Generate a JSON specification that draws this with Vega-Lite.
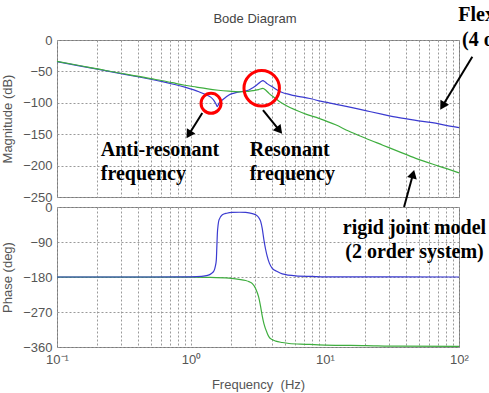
{
  "$schema": "https://vega.github.io/schema/vega-lite/v6.json",
  "padding": {"left": 1, "top": 4, "right": -7, "bottom": 0},
  "bounds": "flush",
  "spacing": 10,
  "config": {
    "view": {"stroke": "#7a7a7a", "strokeWidth": 1},
    "axis": {
      "labelFont": "Liberation Sans", "titleFont": "Liberation Sans",
      "labelColor": "#555555", "titleColor": "#555555",
      "labelFontSize": 13, "titleFontSize": 13, "titleFontWeight": "normal",
      "ticks": false, "domain": false,
      "gridColor": "#9a9a9a", "gridDash": [2, 2], "gridOpacity": 1
    }
  },
  "datasets": {
    "mag": [
      {"model": "flexible", "f": 0.1, "db": -34.5}, {"model": "flexible", "f": 0.15, "db": -41.5}, {"model": "flexible", "f": 0.2, "db": -46.5}, {"model": "flexible", "f": 0.3, "db": -53.5}, {"model": "flexible", "f": 0.4, "db": -58.5}, {"model": "flexible", "f": 0.5, "db": -62.5}, {"model": "flexible", "f": 0.6, "db": -66}, {"model": "flexible", "f": 0.725, "db": -70}, {"model": "flexible", "f": 0.9, "db": -75}, {"model": "flexible", "f": 1.05, "db": -79.5}, {"model": "flexible", "f": 1.147, "db": -82.5}, {"model": "flexible", "f": 1.29, "db": -87}, {"model": "flexible", "f": 1.403, "db": -91}, {"model": "flexible", "f": 1.48, "db": -96}, {"model": "flexible", "f": 1.53, "db": -101}, {"model": "flexible", "f": 1.572, "db": -106}, {"model": "flexible", "f": 1.62, "db": -100.5}, {"model": "flexible", "f": 1.713, "db": -95.5}, {"model": "flexible", "f": 1.82, "db": -91}, {"model": "flexible", "f": 1.92, "db": -87.5}, {"model": "flexible", "f": 2.1, "db": -84.5}, {"model": "flexible", "f": 2.28, "db": -82.5}, {"model": "flexible", "f": 2.5, "db": -81.5}, {"model": "flexible", "f": 2.71, "db": -79.5}, {"model": "flexible", "f": 2.87, "db": -76.5}, {"model": "flexible", "f": 3.04, "db": -73}, {"model": "flexible", "f": 3.2, "db": -69}, {"model": "flexible", "f": 3.33, "db": -66}, {"model": "flexible", "f": 3.44, "db": -64.8}, {"model": "flexible", "f": 3.58, "db": -67}, {"model": "flexible", "f": 3.7, "db": -69.5}, {"model": "flexible", "f": 4.04, "db": -74.5}, {"model": "flexible", "f": 4.4, "db": -79.5}, {"model": "flexible", "f": 4.8, "db": -83.5}, {"model": "flexible", "f": 5.4, "db": -86.5}, {"model": "flexible", "f": 6.04, "db": -89}, {"model": "flexible", "f": 7, "db": -91.5}, {"model": "flexible", "f": 8.04, "db": -94}, {"model": "flexible", "f": 9, "db": -97}, {"model": "flexible", "f": 10.7, "db": -100}, {"model": "flexible", "f": 15, "db": -106.5}, {"model": "flexible", "f": 20.1, "db": -112.5}, {"model": "flexible", "f": 27, "db": -118.5}, {"model": "flexible", "f": 35.6, "db": -123.7}, {"model": "flexible", "f": 47.6, "db": -128}, {"model": "flexible", "f": 63.2, "db": -131.7}, {"model": "flexible", "f": 80, "db": -136}, {"model": "flexible", "f": 100, "db": -139.6},
      {"model": "rigid", "f": 0.1, "db": -34}, {"model": "rigid", "f": 0.15, "db": -41}, {"model": "rigid", "f": 0.2, "db": -46}, {"model": "rigid", "f": 0.3, "db": -53}, {"model": "rigid", "f": 0.4, "db": -57.5}, {"model": "rigid", "f": 0.5, "db": -61.5}, {"model": "rigid", "f": 0.6, "db": -64.5}, {"model": "rigid", "f": 0.725, "db": -68}, {"model": "rigid", "f": 0.9, "db": -72}, {"model": "rigid", "f": 1.1, "db": -75}, {"model": "rigid", "f": 1.3, "db": -77.5}, {"model": "rigid", "f": 1.6, "db": -80}, {"model": "rigid", "f": 1.92, "db": -81.5}, {"model": "rigid", "f": 2.28, "db": -82.5}, {"model": "rigid", "f": 2.6, "db": -82}, {"model": "rigid", "f": 2.9, "db": -80.5}, {"model": "rigid", "f": 3.2, "db": -79}, {"model": "rigid", "f": 3.44, "db": -77}, {"model": "rigid", "f": 3.62, "db": -80}, {"model": "rigid", "f": 3.82, "db": -85}, {"model": "rigid", "f": 4.2, "db": -92}, {"model": "rigid", "f": 4.54, "db": -97.5}, {"model": "rigid", "f": 5.2, "db": -105}, {"model": "rigid", "f": 6.04, "db": -111.5}, {"model": "rigid", "f": 7.2, "db": -118}, {"model": "rigid", "f": 9, "db": -124.7}, {"model": "rigid", "f": 12, "db": -135}, {"model": "rigid", "f": 15, "db": -145}, {"model": "rigid", "f": 20.1, "db": -156.5}, {"model": "rigid", "f": 27, "db": -167.5}, {"model": "rigid", "f": 35.6, "db": -177.8}, {"model": "rigid", "f": 47.6, "db": -188.4}, {"model": "rigid", "f": 63.2, "db": -197.5}, {"model": "rigid", "f": 80, "db": -204.5}, {"model": "rigid", "f": 100, "db": -211.5}
    ],
    "phase": [
      {"model": "flexible", "f": 0.1, "deg": -180}, {"model": "flexible", "f": 0.5, "deg": -180}, {"model": "flexible", "f": 1, "deg": -179.5}, {"model": "flexible", "f": 1.2, "deg": -178.5}, {"model": "flexible", "f": 1.33, "deg": -176}, {"model": "flexible", "f": 1.42, "deg": -171}, {"model": "flexible", "f": 1.485, "deg": -164}, {"model": "flexible", "f": 1.52, "deg": -152}, {"model": "flexible", "f": 1.545, "deg": -136}, {"model": "flexible", "f": 1.56, "deg": -100}, {"model": "flexible", "f": 1.572, "deg": -70}, {"model": "flexible", "f": 1.595, "deg": -45}, {"model": "flexible", "f": 1.618, "deg": -33}, {"model": "flexible", "f": 1.713, "deg": -20}, {"model": "flexible", "f": 1.85, "deg": -16}, {"model": "flexible", "f": 2.03, "deg": -14}, {"model": "flexible", "f": 2.3, "deg": -13.5}, {"model": "flexible", "f": 2.56, "deg": -14}, {"model": "flexible", "f": 2.87, "deg": -17}, {"model": "flexible", "f": 3.04, "deg": -20}, {"model": "flexible", "f": 3.2, "deg": -27}, {"model": "flexible", "f": 3.31, "deg": -37}, {"model": "flexible", "f": 3.4, "deg": -55}, {"model": "flexible", "f": 3.5, "deg": -84.5}, {"model": "flexible", "f": 3.6, "deg": -108}, {"model": "flexible", "f": 3.71, "deg": -127.6}, {"model": "flexible", "f": 3.85, "deg": -145}, {"model": "flexible", "f": 4.04, "deg": -157.6}, {"model": "flexible", "f": 4.4, "deg": -166}, {"model": "flexible", "f": 4.8, "deg": -172}, {"model": "flexible", "f": 6.04, "deg": -177}, {"model": "flexible", "f": 8, "deg": -178.5}, {"model": "flexible", "f": 10, "deg": -179.5}, {"model": "flexible", "f": 100, "deg": -180},
      {"model": "rigid", "f": 0.1, "deg": -180.5}, {"model": "rigid", "f": 1, "deg": -180.5}, {"model": "rigid", "f": 1.36, "deg": -181}, {"model": "rigid", "f": 1.92, "deg": -183}, {"model": "rigid", "f": 2.28, "deg": -186}, {"model": "rigid", "f": 2.56, "deg": -189}, {"model": "rigid", "f": 2.71, "deg": -192}, {"model": "rigid", "f": 2.87, "deg": -197}, {"model": "rigid", "f": 3.04, "deg": -210}, {"model": "rigid", "f": 3.2, "deg": -232}, {"model": "rigid", "f": 3.31, "deg": -257}, {"model": "rigid", "f": 3.4, "deg": -280}, {"model": "rigid", "f": 3.5, "deg": -300}, {"model": "rigid", "f": 3.71, "deg": -325}, {"model": "rigid", "f": 3.82, "deg": -334}, {"model": "rigid", "f": 4.04, "deg": -341}, {"model": "rigid", "f": 4.29, "deg": -345}, {"model": "rigid", "f": 4.8, "deg": -348.5}, {"model": "rigid", "f": 5.39, "deg": -351}, {"model": "rigid", "f": 7.18, "deg": -353}, {"model": "rigid", "f": 10, "deg": -355}, {"model": "rigid", "f": 20, "deg": -356.5}, {"model": "rigid", "f": 35.6, "deg": -358}, {"model": "rigid", "f": 100, "deg": -358.5}
    ],
    "circles": [
      {"name": "anti", "f": 1.411, "db": -100.8},
      {"name": "res", "f": 3.37, "db": -76.9}
    ],
    "arrows": [
      {"name": "anti", "f": 1.214, "db": -116.2, "f2": 0.963, "db2": -150.6},
      {"name": "res", "f": 3.445, "db": -111.5, "f2": 4.568, "db2": -144.1},
      {"name": "flex", "f": 125.7, "db": -26.6, "f2": 75.3, "db2": -105.1},
      {"name": "rigid", "f": 38.9, "db": -265.9, "f2": 45.4, "db2": -213.5}
    ],
    "heads": [
      {"name": "anti", "f": 0.963, "db": -150.6},
      {"name": "res", "f": 4.568, "db": -144.1},
      {"name": "flex", "f": 75.3, "db": -105.1},
      {"name": "rigid", "f": 45.4, "db": -213.5}
    ],
    "labels": [
      {"text": "Anti-resonant\nfrequency", "f": 0.212, "db": -184.2},
      {"text": "Resonant\nfrequency", "f": 2.742, "db": -184.2}
    ],
    "flexlabels": [
      {"text": "Flexible joint model", "f": 98.8, "deg": 479.3},
      {"text": "(4 order system)", "f": 105.3, "deg": 414.8}
    ],
    "rigidlabel": [
      {"text": "rigid joint model\n(2 order system)", "f": 46.55, "deg": -69.7}
    ]
  },
  "vconcat": [
    {
      "width": 402,
      "height": 157,
      "title": {"text": "Bode Diagram", "font": "Liberation Sans", "fontSize": 13, "fontWeight": "normal", "color": "#444444", "offset": 8, "dx": -3, "frame": "group"},
      "encoding": {
        "x": {"field": "f", "type": "quantitative",
          "scale": {"type": "log", "domain": [0.1, 100], "nice": false},
          "axis": {"values": [0.1,0.2,0.3,0.4,0.5,0.6,0.7,0.8,0.9,1,2,3,4,5,6,7,8,9,10,20,30,40,50,60,70,80,90,100], "labels": false, "title": null, "grid": true}},
        "y": {"field": "db", "type": "quantitative",
          "scale": {"domain": [-250, 0], "nice": false, "zero": false},
          "axis": {"values": [-250,-200,-150,-100,-50,0], "title": "Magnitude (dB)", "labelPadding": 5, "titlePadding": 8, "grid": true}}
      },
      "layer": [
        {"data": {"name": "mag"}, "transform": [{"filter": "datum.model == 'flexible'"}],
         "mark": {"type": "line", "color": "#3b3bd0", "strokeWidth": 1.2, "interpolate": "monotone"}},
        {"data": {"name": "mag"}, "transform": [{"filter": "datum.model == 'rigid'"}],
         "mark": {"type": "line", "color": "#3fae3f", "strokeWidth": 1.2, "interpolate": "monotone"}},
        {"data": {"name": "circles"}, "transform": [{"filter": "datum.name == 'anti'"}],
         "mark": {"type": "point", "shape": "circle", "filled": false, "stroke": "#ff0000", "strokeWidth": 3, "opacity": 1, "size": 400}},
        {"data": {"name": "circles"}, "transform": [{"filter": "datum.name == 'res'"}],
         "mark": {"type": "point", "shape": "circle", "filled": false, "stroke": "#ff0000", "strokeWidth": 3, "opacity": 1, "size": 1257}},
        {"data": {"name": "arrows"},
         "mark": {"type": "rule", "color": "#000000", "strokeWidth": 2},
         "encoding": {"x2": {"field": "f2"}, "y2": {"field": "db2"}}},
        {"data": {"name": "heads"}, "transform": [{"filter": "datum.name == 'anti'"}],
         "mark": {"type": "point", "shape": "triangle-up", "filled": true, "color": "#000000", "opacity": 1, "size": 100, "angle": 212}},
        {"data": {"name": "heads"}, "transform": [{"filter": "datum.name == 'res'"}],
         "mark": {"type": "point", "shape": "triangle-up", "filled": true, "color": "#000000", "opacity": 1, "size": 100, "angle": 141}},
        {"data": {"name": "heads"}, "transform": [{"filter": "datum.name == 'flex'"}],
         "mark": {"type": "point", "shape": "triangle-up", "filled": true, "color": "#000000", "opacity": 1, "size": 100, "angle": 211}},
        {"data": {"name": "heads"}, "transform": [{"filter": "datum.name == 'rigid'"}],
         "mark": {"type": "point", "shape": "triangle-up", "filled": true, "color": "#000000", "opacity": 1, "size": 100, "angle": 15}},
        {"data": {"name": "labels"},
         "mark": {"type": "text", "font": "Liberation Serif", "fontWeight": "bold", "fontSize": 20, "color": "#000000", "align": "left", "baseline": "alphabetic", "lineBreak": "\n", "lineHeight": 24},
         "encoding": {"text": {"field": "text"}}}
      ]
    },
    {
      "width": 402,
      "height": 140,
      "encoding": {
        "x": {"field": "f", "type": "quantitative",
          "scale": {"type": "log", "domain": [0.1, 100], "nice": false},
          "axis": {"values": [0.1,0.2,0.3,0.4,0.5,0.6,0.7,0.8,0.9,1,2,3,4,5,6,7,8,9,10,20,30,40,50,60,70,80,90,100],
            "labelExpr": "datum.value == 0.1 ? '10⁻¹' : datum.value == 1 ? '10⁰' : datum.value == 10 ? '10¹' : datum.value == 100 ? '10²' : ''",
            "labelOverlap": false, "labelFlush": false, "labelBound": false, "labelPadding": 6,
            "title": "Frequency \u00a0(Hz)", "titlePadding": 12, "grid": true}},
        "y": {"field": "deg", "type": "quantitative",
          "scale": {"domain": [-360, 0], "nice": false, "zero": false},
          "axis": {"values": [-360,-270,-180,-90,0], "title": "Phase (deg)", "labelPadding": 5, "titlePadding": 8, "grid": true}}
      },
      "layer": [
        {"data": {"name": "phase"}, "transform": [{"filter": "datum.model == 'rigid'"}],
         "mark": {"type": "line", "color": "#3fae3f", "strokeWidth": 1.2, "interpolate": "monotone"}},
        {"data": {"name": "phase"}, "transform": [{"filter": "datum.model == 'flexible'"}],
         "mark": {"type": "line", "color": "#3b3bd0", "strokeWidth": 1.2, "interpolate": "monotone"}},
        {"data": {"name": "rigidlabel"},
         "mark": {"type": "text", "font": "Liberation Serif", "fontWeight": "bold", "fontSize": 20, "color": "#000000", "align": "center", "baseline": "alphabetic", "lineBreak": "\n", "lineHeight": 24},
         "encoding": {"text": {"field": "text"}}},
        {"data": {"name": "flexlabels"},
         "mark": {"type": "text", "font": "Liberation Serif", "fontWeight": "bold", "fontSize": 20, "color": "#000000", "align": "left", "baseline": "alphabetic", "limit": 40, "ellipsis": "\u200b"},
         "encoding": {"text": {"field": "text"}}}
      ]
    }
  ]
}
